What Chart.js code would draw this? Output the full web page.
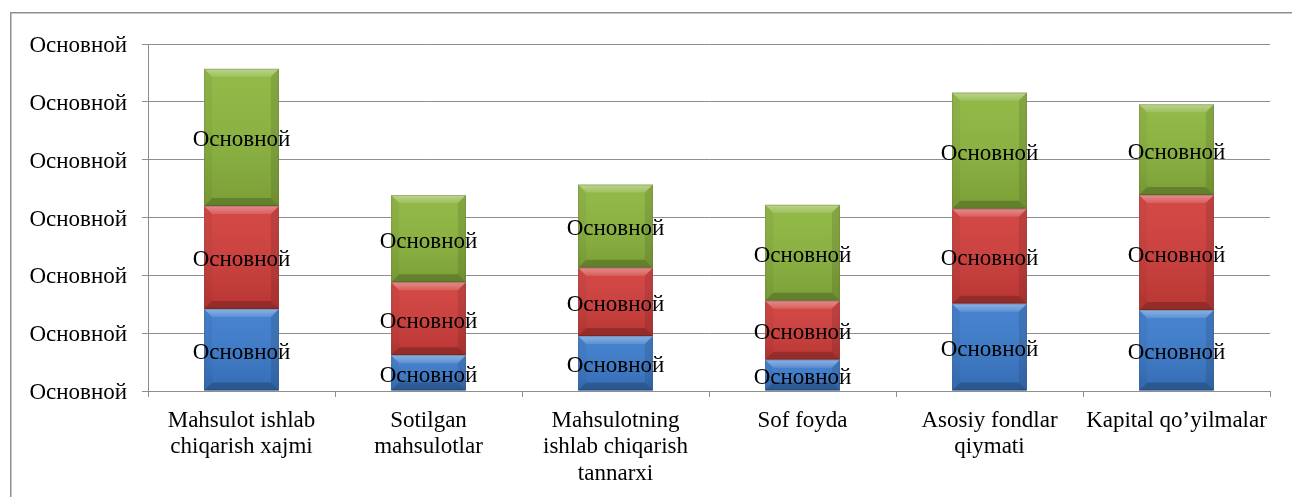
<!DOCTYPE html>
<html>
<head>
<meta charset="utf-8">
<script src="https://cdn.jsdelivr.net/npm/chart.js@4/dist/chart.umd.min.js"></script>
<style>
  html, body { margin: 0; padding: 0; background: #ffffff; }
  #wrap { width: 1292px; height: 497px; position: relative; }
</style>
</head>
<body>
<div id="wrap"><canvas id="c" width="1292" height="497"></canvas></div>
<script>
// ---- data ----
const categories = [
  ["Mahsulot ishlab", "chiqarish xajmi"],
  ["Sotilgan", "mahsulotlar"],
  ["Mahsulotning", "ishlab chiqarish", "tannarxi"],
  ["Sof foyda"],
  ["Asosiy fondlar", "qiymati"],
  ["Kapital qo’yilmalar"]
];
const seriesBlue  = [1.42, 0.62, 0.95, 0.54, 1.51, 1.40];
const seriesRed   = [1.78, 1.26, 1.18, 1.02, 1.64, 1.99];
const seriesGreen = [2.37, 1.51, 1.44, 1.66, 2.01, 1.57];
const seriesNames = ["Основной", "Основной", "Основной"];
const tickLabel = "Основной";
const dataLabel = "Основной";
const yMin = 0, yMax = 6, yStep = 1;

const FONT = '"Liberation Serif", "Times New Roman", serif';
const GRID = '#8e8e8e';

const framePlugin = {
  id: 'frame',
  beforeDraw(chart) {
    const ctx = chart.ctx;
    ctx.save();
    ctx.strokeStyle = '#8f8f8f';
    ctx.lineWidth = 1.5;
    ctx.strokeRect(10.75, 12.75, 1400, 600);
    ctx.restore();
  }
};

const bevelPlugin = {
  id: 'bevel',
  afterDatasetsDraw(chart) {
    const ctx = chart.ctx;
    ctx.save();
    chart.data.datasets.forEach((ds, di) => {
      const meta = chart.getDatasetMeta(di);
      meta.data.forEach((el) => {
        const p = el.getProps(['x', 'y', 'base', 'width'], true);
        const l = p.x - p.width / 2, r = p.x + p.width / 2;
        const t = Math.min(p.y, p.base), b = Math.max(p.y, p.base);
        const bv = Math.min(8, (b - t) / 2);
        const g = ctx.createLinearGradient(0, t, 0, b);
        g.addColorStop(0, 'rgba(255,255,255,0.06)');
        g.addColorStop(1, 'rgba(0,0,0,0.12)');
        ctx.fillStyle = g;
        ctx.fillRect(l, t, r - l, b - t);
        const gt = ctx.createLinearGradient(0, t, 0, t + bv);
        gt.addColorStop(0, 'rgba(255,255,255,0.38)');
        gt.addColorStop(1, 'rgba(255,255,255,0.12)');
        ctx.fillStyle = gt;
        ctx.beginPath();
        ctx.moveTo(l, t); ctx.lineTo(r, t); ctx.lineTo(r - bv, t + bv); ctx.lineTo(l + bv, t + bv); ctx.closePath();
        ctx.fill();
        ctx.fillStyle = 'rgba(0,0,0,0.2)';
        ctx.beginPath();
        ctx.moveTo(l, b); ctx.lineTo(r, b); ctx.lineTo(r - bv, b - bv); ctx.lineTo(l + bv, b - bv); ctx.closePath();
        ctx.fill();
        ctx.fillStyle = 'rgba(0,0,0,0.04)';
        ctx.beginPath();
        ctx.moveTo(l, t); ctx.lineTo(l + bv, t + bv); ctx.lineTo(l + bv, b - bv); ctx.lineTo(l, b); ctx.closePath();
        ctx.fill();
        ctx.fillStyle = 'rgba(0,0,0,0.1)';
        ctx.beginPath();
        ctx.moveTo(r, t); ctx.lineTo(r - bv, t + bv); ctx.lineTo(r - bv, b - bv); ctx.lineTo(r, b); ctx.closePath();
        ctx.fill();
        ctx.strokeStyle = 'rgba(0,0,0,0.15)';
        ctx.lineWidth = 1;
        ctx.strokeRect(l + 0.5, t + 0.5, r - l - 1, b - t - 1);
      });
    });
    ctx.font = '23px ' + FONT;
    ctx.fillStyle = '#000000';
    ctx.textAlign = 'center';
    ctx.textBaseline = 'middle';
    chart.data.datasets.forEach((ds, di) => {
      const meta = chart.getDatasetMeta(di);
      meta.data.forEach((el) => {
        const p = el.getProps(['x', 'y', 'base'], true);
        ctx.fillText(dataLabel, p.x, (p.y + p.base) / 2 + 3);
      });
    });
    ctx.restore();
  }
};

new Chart(document.getElementById('c'), {
  type: 'bar',
  data: {
    labels: categories,
    datasets: [
      { label: seriesNames[0], data: seriesBlue,  backgroundColor: '#3b7bcc' },
      { label: seriesNames[1], data: seriesRed,   backgroundColor: '#d13d3a' },
      { label: seriesNames[2], data: seriesGreen, backgroundColor: '#8cb53d' }
    ]
  },
  options: {
    responsive: false,
    animation: false,
    devicePixelRatio: 1,
    layout: { padding: { left: 20, top: 44, right: 22, bottom: 0 } },
    datasets: { bar: { barPercentage: 0.4, categoryPercentage: 1.0, borderWidth: 0 } },
    plugins: {
      legend: { display: false },
      tooltip: { enabled: false },
      title: { display: false }
    },
    scales: {
      x: {
        stacked: true,
        grid: { drawOnChartArea: false, drawTicks: true, tickLength: 6, color: GRID, offset: true },
        border: { display: true, color: GRID, width: 1 },
        ticks: {
          color: '#000000',
          font: { family: FONT, size: 23, lineHeight: 1.17 },
          padding: 10,
          maxRotation: 0,
          minRotation: 0,
          autoSkip: false
        },
        afterFit(scale) { scale.height = 106; }
      },
      y: {
        stacked: true,
        min: yMin,
        max: yMax,
        grid: { color: GRID, lineWidth: 1, tickLength: 6, drawTicks: true },
        border: { display: true, color: GRID, width: 1 },
        ticks: {
          stepSize: yStep,
          color: '#000000',
          font: { family: FONT, size: 23 },
          padding: 15,
          labelOffset: 2,
          callback: () => tickLabel
        },
        afterFit(scale) { scale.width = 128; }
      }
    }
  },
  plugins: [framePlugin, bevelPlugin]
});
</script>
</body>
</html>
